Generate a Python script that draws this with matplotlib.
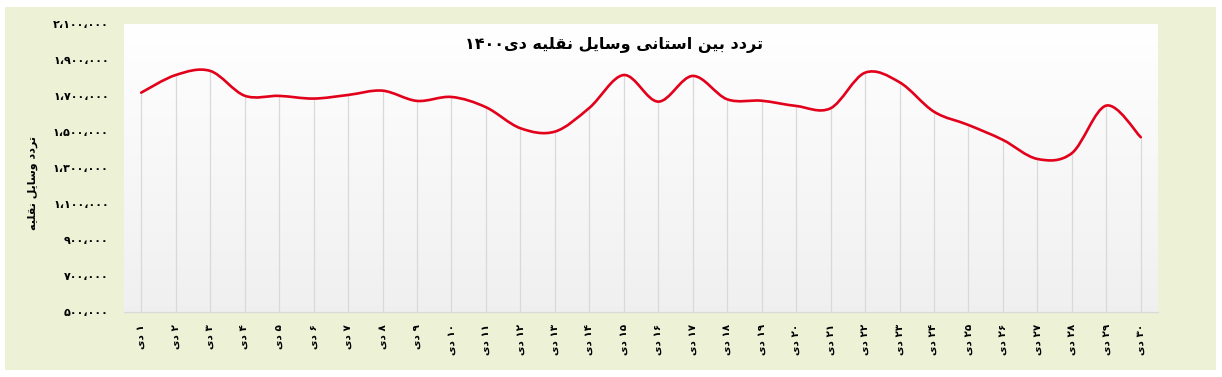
import matplotlib
matplotlib.use("Agg")
import matplotlib.pyplot as plt
from matplotlib.path import Path
from matplotlib.patches import PathPatch, Rectangle
import numpy as np

# ---------------- data ----------------
title_text = "تردد بین استانی وسایل نقلیه دی۱۴۰۰"
ylabel_text = "تردد وسایل نقلیه"
days = ["۱ دی", "۲ دی", "۳ دی", "۴ دی", "۵ دی", "۶ دی", "۷ دی", "۸ دی", "۹ دی", "۱۰ دی",
        "۱۱ دی", "۱۲ دی", "۱۳ دی", "۱۴ دی", "۱۵ دی", "۱۶ دی", "۱۷ دی", "۱۸ دی", "۱۹ دی", "۲۰ دی",
        "۲۱ دی", "۲۲ دی", "۲۳ دی", "۲۴ دی", "۲۵ دی", "۲۶ دی", "۲۷ دی", "۲۸ دی", "۲۹ دی", "۳۰ دی"]
traffic = [1718000, 1816000, 1839000, 1701000, 1700000, 1685000, 1705000, 1729000, 1672000, 1694000,
           1637000, 1520000, 1501000, 1633000, 1816000, 1668000, 1811000, 1681000, 1673000, 1644000,
           1631000, 1829000, 1776000, 1612000, 1538000, 1455000, 1349000, 1381000, 1646000, 1470000]
ytick_values = [500000, 700000, 900000, 1100000, 1300000, 1500000, 1700000, 1900000, 2100000]
ytick_labels = ["۵۰۰،۰۰۰", "۷۰۰،۰۰۰", "۹۰۰،۰۰۰", "۱،۱۰۰،۰۰۰", "۱،۳۰۰،۰۰۰",
                "۱،۵۰۰،۰۰۰", "۱،۷۰۰،۰۰۰", "۱،۹۰۰،۰۰۰", "۲،۱۰۰،۰۰۰"]

# ------------- Arabic/Persian shaping for display -------------
FORMS = {  # isolated, final, initial, medial
    'ا': ('\uFE8D', '\uFE8E', None, None),
    'ب': ('\uFE8F', '\uFE90', '\uFE91', '\uFE92'),
    'ت': ('\uFE95', '\uFE96', '\uFE97', '\uFE98'),
    'د': ('\uFEA9', '\uFEAA', None, None),
    'ر': ('\uFEAD', '\uFEAE', None, None),
    'س': ('\uFEB1', '\uFEB2', '\uFEB3', '\uFEB4'),
    'ق': ('\uFED5', '\uFED6', '\uFED7', '\uFED8'),
    'ل': ('\uFEDD', '\uFEDE', '\uFEDF', '\uFEE0'),
    'ن': ('\uFEE5', '\uFEE6', '\uFEE7', '\uFEE8'),
    'ه': ('\uFEE9', '\uFEEA', '\uFEEB', '\uFEEC'),
    'و': ('\uFEED', '\uFEEE', None, None),
    'ی': ('\uFEEF', '\uFEF0', '\uFEF3', '\uFEF4'),
}


def dual(c):
    return c in FORMS and FORMS[c][2] is not None


def shape(text):
    out = []
    n = len(text)
    for i, c in enumerate(text):
        if c not in FORMS:
            out.append(c)
            continue
        prev = text[i - 1] if i > 0 else ''
        nxt = text[i + 1] if i < n - 1 else ''
        jp = dual(prev)
        jn = dual(c) and nxt in FORMS
        iso, fin, ini, med = FORMS[c]
        if jp and jn:
            out.append(med)
        elif jp:
            out.append(fin)
        elif jn:
            out.append(ini)
        else:
            out.append(iso)
    return ''.join(out)


def is_num(c):
    return c.isdigit() or c in '،,.'


def visual(text):
    s = shape(text)
    runs = []
    for c in s:
        kind = is_num(c)
        if runs and runs[-1][0] == kind:
            runs[-1][1].append(c)
        else:
            runs.append([kind, [c]])
    parts = []
    for kind, chars in reversed(runs):
        parts.append(''.join(chars) if kind else ''.join(reversed(chars)))
    return ''.join(parts)


# ---------------- figure ----------------
W, H = 1222, 377
fig = plt.figure(figsize=(W / 100, H / 100), dpi=100)
fig.patch.set_facecolor("white")
fig.patches.append(Rectangle((5 / W, 1 - 370 / H), (1216 - 5) / W, (370 - 7) / H,
                             transform=fig.transFigure, facecolor="#EDF1D6",
                             edgecolor="none", zorder=-10))

left, right, top, bottom = 124, 1158, 24, 311.5
ax = fig.add_axes([left / W, 1 - bottom / H, (right - left) / W, (bottom - top) / H])
ax.set_zorder(1)
ax.set_facecolor("white")

# gradient background
g = np.linspace(0, 1, 256)[:, None, None]
top_c = np.array([1.0, 1.0, 1.0])
bot_c = np.array([0.94, 0.94, 0.94])
img = (1 - g) * top_c + g * bot_c
ax.imshow(img, extent=[0, 1, 0, 1], transform=ax.transAxes, aspect="auto",
          zorder=0, origin="upper")

x = np.arange(len(days))
ax.set_xlim(-0.5, len(days) - 0.5)
ax.set_ylim(ytick_values[0], ytick_values[-1])

# drop lines
ax.vlines(x, ytick_values[0], traffic, colors="#D9D9D9", linewidth=0.9, zorder=1)

# smoothed line (Catmull-Rom -> cubic Bezier)
pts = np.column_stack([x, traffic]).astype(float)
verts = [tuple(pts[0])]
codes = [Path.MOVETO]
for i in range(len(pts) - 1):
    p0 = pts[i - 1] if i > 0 else pts[i]
    p1 = pts[i]
    p2 = pts[i + 1]
    p3 = pts[i + 2] if i + 2 < len(pts) else pts[i + 1]
    c1 = p1 + (p2 - p0) / 6.0
    c2 = p2 - (p3 - p1) / 6.0
    verts += [tuple(c1), tuple(c2), tuple(p2)]
    codes += [Path.CURVE4] * 3
ax.add_patch(PathPatch(Path(verts, codes), facecolor="none", edgecolor="#E2001A",
                       linewidth=1.9, zorder=3, capstyle="round"))

for s in ["top", "right", "left"]:
    ax.spines[s].set_visible(False)
ax.spines["bottom"].set_color("#D9D9D9")
ax.spines["bottom"].set_linewidth(0.9)

ax.set_yticks(ytick_values)
ax.set_yticklabels(ytick_labels, fontsize=8, fontweight="bold", family="DejaVu Sans")
ax.set_xticks(x)
ax.set_xticklabels([visual(d) for d in days], rotation=90, fontsize=7.5,
                   fontweight="bold", family="DejaVu Sans", va="top", ha="center")
ax.tick_params(axis="y", length=0, pad=11)
ax.tick_params(axis="x", length=0, pad=9)

fig.text(614 / W, 1 - 45 / H, visual(title_text), ha="center", va="center",
         fontsize=11.5, fontweight="bold", family="DejaVu Sans", zorder=5)
fig.text(33 / W, 1 - 183 / H, visual(ylabel_text), ha="center", va="center",
         rotation=90, fontsize=8, fontweight="bold", family="DejaVu Sans")

fig.savefig("out.png", dpi=100, facecolor=fig.get_facecolor())
